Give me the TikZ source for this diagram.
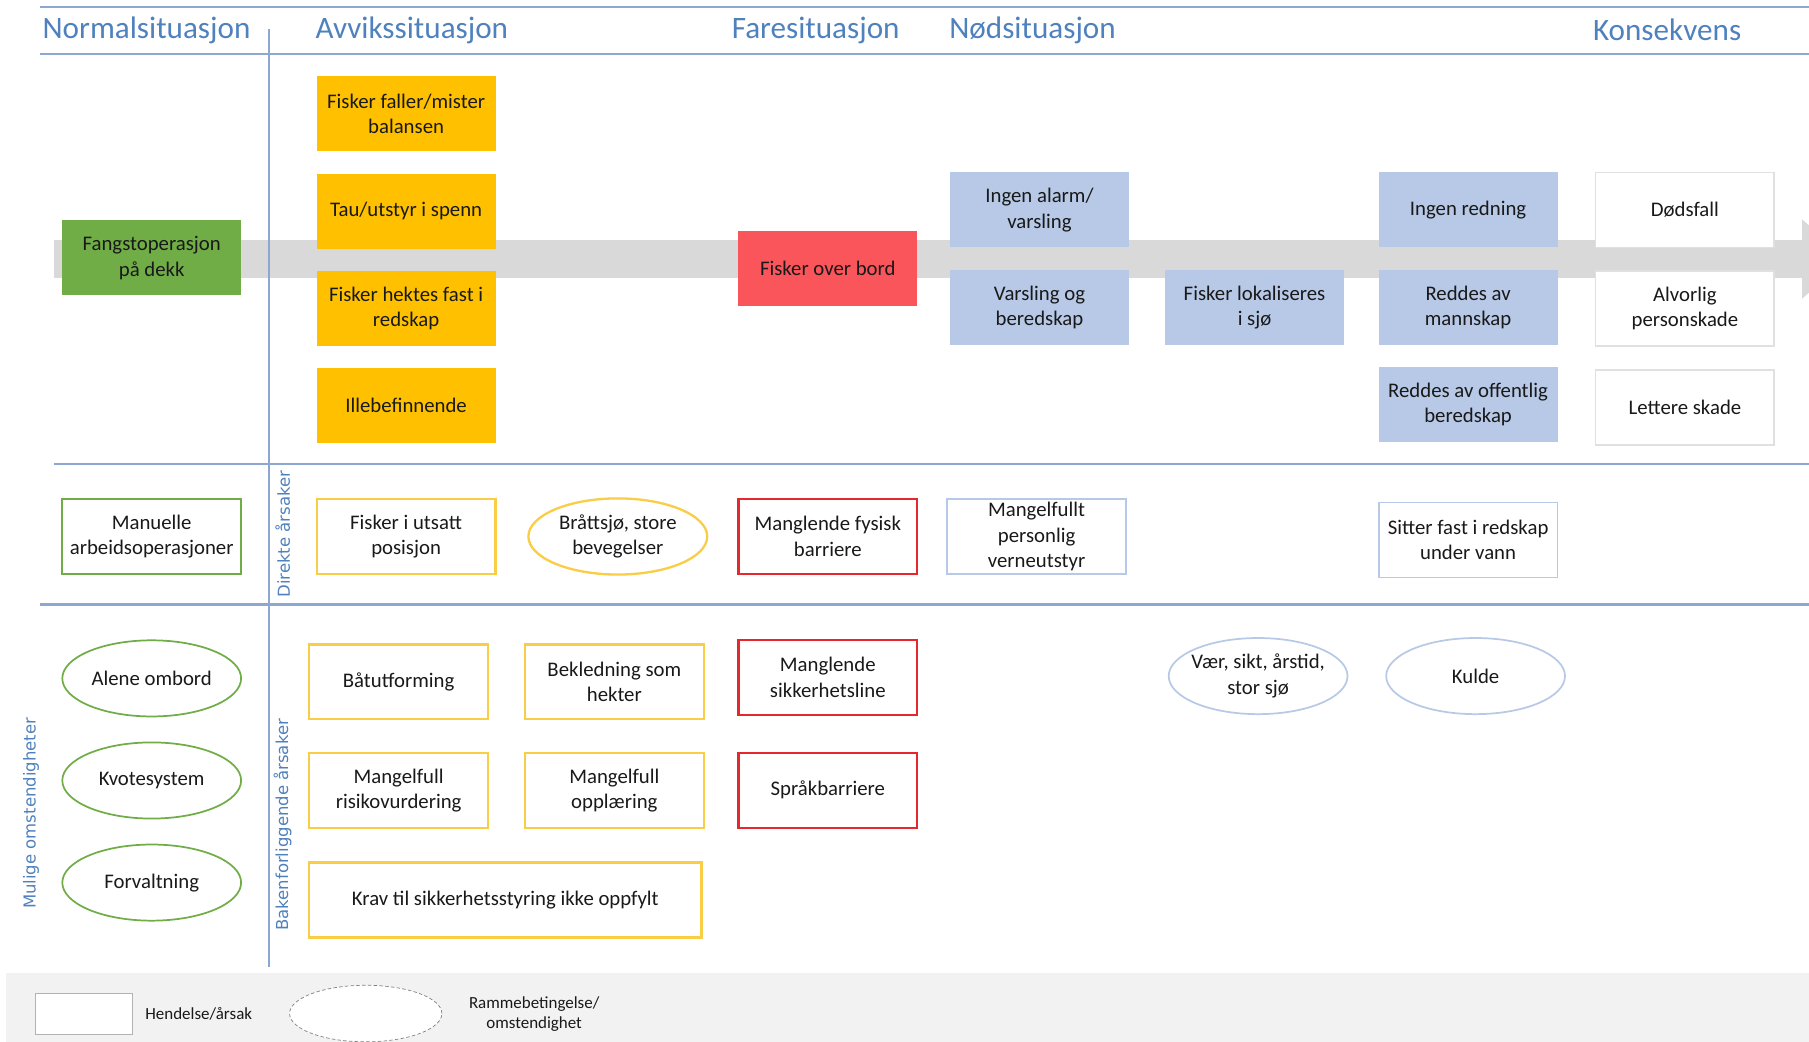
\documentclass[tikz,border=0pt]{standalone}
\usepackage{fontspec}
\setmainfont{Carlito}
\newfontfamily\sidefont{DejaVu Sans}
\usepackage{tikz}
\usetikzlibrary{arrows.meta}
\usetikzlibrary{positioning}
\usetikzlibrary{shapes.geometric}

\definecolor{hodeblaa}{RGB}{79,129,189}
\definecolor{linjeblaa}{RGB}{140,168,208}
\definecolor{gul}{RGB}{255,192,0}
\definecolor{gulkant}{RGB}{250,205,70}
\definecolor{gronn}{RGB}{112,173,71}
\definecolor{rod}{RGB}{250,85,90}
\definecolor{rodkant}{RGB}{228,40,45}
\definecolor{lysblaa}{RGB}{183,201,230}
\definecolor{baand}{RGB}{217,217,217}
\definecolor{legende}{RGB}{242,242,242}

\tikzstyle{boks}=[rectangle,minimum width=155pt,minimum height=65pt,inner sep=2pt,align=center,text=black!90,font=\fontsize{18}{22}\selectfont]
\tikzstyle{normalsit}=[boks,fill=gronn]
\tikzstyle{avvik}=[boks,fill=gul]
\tikzstyle{fare}=[boks,fill=rod]
\tikzstyle{nod}=[boks,fill=lysblaa]
\tikzstyle{kons}=[boks,fill=white,draw=black!12,line width=1.5pt]
\tikzstyle{grbox}=[boks,draw=gronn,line width=1.5pt]
\tikzstyle{ylbox}=[boks,draw=gulkant,line width=2pt]
\tikzstyle{rdbox}=[boks,draw=rodkant,line width=2pt]
\tikzstyle{blbox}=[boks,draw=lysblaa,line width=1.5pt]
\tikzstyle{grell}=[boks,ellipse,minimum height=66pt,draw=gronn,line width=1.5pt]
\tikzstyle{ylell}=[boks,ellipse,minimum height=66pt,draw=gulkant,line width=2pt]
\tikzstyle{blell}=[boks,ellipse,minimum height=66pt,draw=lysblaa,line width=1.5pt]
\tikzstyle{hode}=[text=hodeblaa,font=\fontsize{27}{30}\selectfont]
\tikzstyle{side}=[text=hodeblaa,rotate=90,font=\sidefont\fontsize{14.3}{17}\selectfont]
\tikzstyle{skille}=[draw=linjeblaa,line width=2pt]

\begin{document}
\begin{tikzpicture}[x=1pt,y=-1pt,node distance=19pt]
\useasboundingbox (0,0) rectangle (1568,903);
\fill[legende] (5,843) rectangle (1568,903);

\coordinate (A) at (47,224.5);
\coordinate (C) at (1602,224.5);
\draw[baand,line width=33pt,-{Triangle[width=66pt,length=40pt]}] (A) -- (C);

\draw[skille] (35,6) -- (1568,6);
\draw[skille] (35,47) -- (1568,47);
\draw[skille] (233,25) -- (233,838);
\draw[skille] (47,402) -- (1568,402);
\draw[skille] (35,524) -- (1568,524);

\node[hode] (h1) at (127,26) {Normalsituasjon};
\node[hode] (h2) at (357,26) {Avvikssituasjon};
\node[hode] (h3) at (707,26) {Faresituasjon};
\node[hode] (h4) at (895,26) {Nødsituasjon};
\node[hode] (h5) at (1445,26) {Konsekvens};

% hendelseskjeden
\node[normalsit] (fd) at (131.5,223.5) {Fangstoperasjon\\på dekk};
\node[avvik] (fm) at (352,98.5) {Fisker faller/mister\\balansen};
\node[avvik,below=of fm] (tu) {Tau/utstyr i spenn};
\node[avvik,below=of tu] (fh) {Fisker hektes fast i\\redskap};
\node[avvik,below=of fh] (ib) {Illebefinnende};
\node[fare] (fob) at (717.5,232.5) {Fisker over bord};
\node[nod] (ia) at (901,182) {Ingen alarm/\\varsling};
\node[nod,below=of ia] (vb) {Varsling og\\beredskap};
\node[nod,right=31pt of vb] (fl) {Fisker lokaliseres\\i sjø};
\node[nod] (ir) at (1272.5,182) {Ingen redning};
\node[nod,below=of ir] (rm) {Reddes av\\mannskap};
\node[nod,below=of rm] (ro) {Reddes av offentlig\\beredskap};
\node[kons,right=32pt of ir] (df) {Dødsfall};
\node[kons,below=of df] (ap) {Alvorlig\\personskade};
\node[kons,below=of ap] (ls) {Lettere skade};

% direkte aarsaker
\node[grbox] (ma) at (131.5,465) {Manuelle\\arbeidsoperasjoner};
\node[ylbox] (fu) at (352,465) {Fisker i utsatt\\posisjon};
\node[ylell] (bs) at (535.5,465) {Bråttsjø, store\\bevegelser};
\node[rdbox] (mb) at (717.5,465) {Manglende fysisk\\barriere};
\node[blbox] (mp) at (898.5,465) {Mangelfullt\\personlig\\verneutstyr};
\node[blbox] (sf) at (1272.5,468) {Sitter fast i redskap\\under vann};

% bakenforliggende aarsaker
\node[grell] (ao) at (131.5,588) {Alene ombord};
\node[grell,below=21pt of ao] (kv) {Kvotesystem};
\node[grell,below=21pt of kv] (fv) {Forvaltning};
\node[ylbox] (bf) at (345.5,591) {Båtutforming};
\node[ylbox,right=30pt of bf] (bh) {Bekledning som\\hekter};
\node[ylbox,below=27pt of bf] (mr) {Mangelfull\\risikovurdering};
\node[ylbox,below=27pt of bh] (mo) {Mangelfull\\opplæring};
\node[ylbox,minimum width=340pt] (ks) at (438,780) {Krav til sikkerhetsstyring ikke oppfylt};
\node[rdbox] (ms) at (717.5,587) {Manglende\\sikkerhetsline};
\node[rdbox,below=31pt of ms] (sb) {Språkbarriere};
\node[blell,inner xsep=-6pt] (vs) at (1090.5,586) {Vær, sikt, årstid,\\stor sjø};
\node[blell,right=32pt of vs] (ku) {Kulde};

\node[side] (da) at (245,463) {Direkte årsaker};
\node[side] (ba) at (245,715) {Bakenforliggende årsaker};
\node[side] (mu) at (27,705) {Mulige omstendigheter};

% forklaring
\node[draw=black!30,fill=white,line width=1pt,minimum width=84pt,minimum height=36pt] (lb) at (73,879) {};
\node[right=7pt of lb,text=black!90,font=\fontsize{14.7}{17}\selectfont] (lt) {Hendelse/årsak};
\node[ellipse,draw=black!50,densely dashed,line width=0.6pt,fill=white,minimum width=132pt,minimum height=49pt] (le) at (317,878.5) {};
\node[align=center,text=black!90,font=\fontsize{14.7}{17}\selectfont] (lr) at (463,879) {Rammebetingelse/\\omstendighet};
\end{tikzpicture}
\end{document}
